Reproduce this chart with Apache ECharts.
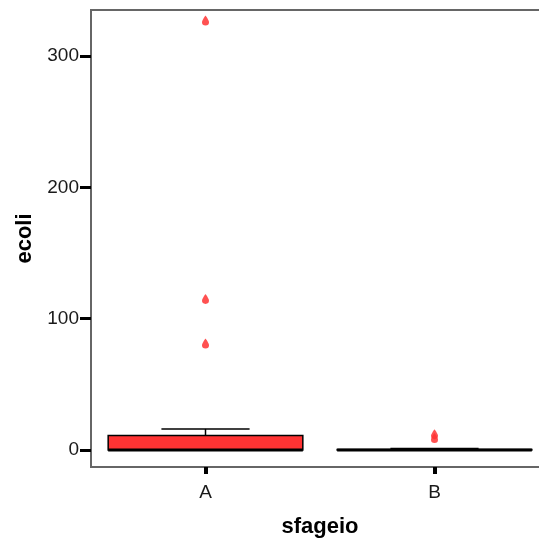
<!DOCTYPE html>
<html><head><meta charset="utf-8">
<script src="https://cdn.jsdelivr.net/npm/echarts@6/dist/echarts.min.js"></script>
<style>html,body{margin:0;padding:0;background:#fff}#c{width:539px;height:540px}</style>
</head><body><div id="c"></div>
<script>
var categories = ['A', 'B'];
// [min whisker, Q1, median, Q3, max whisker]
var boxStats = [
  [0, 0, 0, 11, 16],
  [0, 0, 0, 0.3, 1]
];
var outliersA = [327, 115, 81];
var outliersB = [9, 12];
var yTicks = [0, 100, 200, 300];

var boxData = boxStats.map(function (s, i) { return [i].concat(s); });
var outlierData = [];
outliersA.forEach(function (v) { outlierData.push([0, v]); });
outliersB.forEach(function (v) { outlierData.push([1, v]); });

var chart = echarts.init(document.getElementById('c'));
var font = 'Liberation Sans, Arial, sans-serif';
chart.setOption({
  animation: false,
  grid: { left: 91, top: 10, width: 458, bottom: 73, show: true, borderColor: '#666', borderWidth: 2, backgroundColor: '#fff', outerBoundsMode: 'none', containLabel: false },
  xAxis: {
    type: 'category', data: categories, boundaryGap: true,
    axisLine: { show: false, onZero: false },
    axisTick: { show: true, alignWithLabel: true, length: 7, lineStyle: { color: '#000', width: 4 } },
    axisLabel: { color: '#1a1a1a', fontSize: 19, fontFamily: font, margin: 16 },
    splitLine: { show: false },
    name: 'sfageio', nameLocation: 'middle', nameGap: 49,
    nameTextStyle: { color: '#000', fontSize: 22, fontWeight: 'bold', fontFamily: font }
  },
  yAxis: {
    type: 'value', min: -13, max: 335,
    axisLine: { show: false, onZero: false },
    axisTick: { show: true, length: 11, customValues: yTicks, lineStyle: { color: '#000', width: 3 } },
    axisLabel: { color: '#1a1a1a', fontSize: 19, fontFamily: font, margin: 12, customValues: yTicks },
    splitLine: { show: false },
    name: 'ecoli', nameLocation: 'middle', nameGap: 50,
    nameTextStyle: { color: '#000', fontSize: 22, fontWeight: 'bold', fontFamily: font }
  },
  series: [
    {
      type: 'custom',
      data: boxData,
      encode: { x: 0, y: [1, 2, 3, 4, 5] },
      renderItem: function (params, api) {
        var i = api.value(0);
        var bw = api.size([1, 0])[0];
        var half = bw * 0.85 / 2;
        var cap = bw * 0.385 / 2;
        var pMin = api.coord([i, api.value(1)]);
        var pQ1 = api.coord([i, api.value(2)]);
        var pMed = api.coord([i, api.value(3)]);
        var pQ3 = api.coord([i, api.value(4)]);
        var pMax = api.coord([i, api.value(5)]);
        var x = pQ1[0];
        var ls = { stroke: '#000', lineWidth: 1.5 };
        return {
          type: 'group',
          children: [
            { type: 'line', shape: { x1: x, y1: pQ3[1], x2: x, y2: pMax[1] }, style: ls },
            { type: 'line', shape: { x1: x - cap, y1: pMax[1], x2: x + cap, y2: pMax[1] }, style: ls },
            { type: 'line', shape: { x1: x, y1: pQ1[1], x2: x, y2: pMin[1] }, style: ls },
            { type: 'line', shape: { x1: x - cap, y1: pMin[1], x2: x + cap, y2: pMin[1] }, style: ls },
            { type: 'rect', shape: { x: x - half, y: pQ3[1], width: half * 2, height: Math.max(pQ1[1] - pQ3[1], 0.5) },
              style: { fill: '#ff3333', stroke: '#000', lineWidth: 1.5 } },
            { type: 'line', shape: { x1: x - half, y1: pMed[1], x2: x + half, y2: pMed[1] }, style: { stroke: '#000', lineWidth: 3 } }
          ]
        };
      },
      z: 2
    },
    {
      type: 'scatter',
      data: outlierData,
      symbol: 'path://M5 0 C5 0 0 7 0 10 A5 5 0 0 0 10 10 C10 7 5 0 5 0 Z',
      symbolSize: [7, 10],
      itemStyle: { color: '#ff3333', opacity: 0.85 },
      z: 3
    }
  ]
});
</script></body></html>
